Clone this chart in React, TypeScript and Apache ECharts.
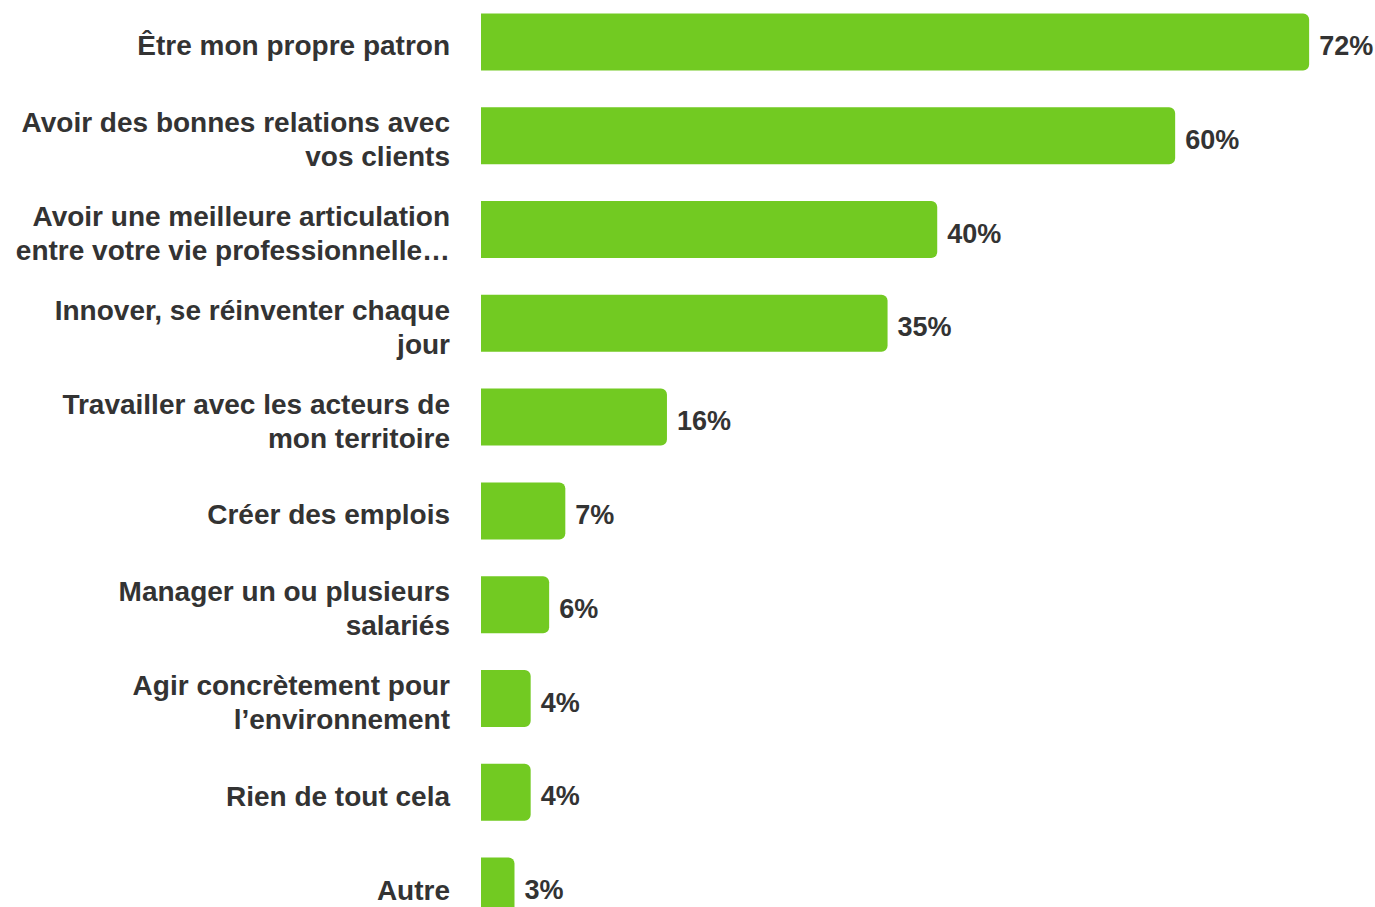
import React, { useEffect, useRef } from "react";
import * as echarts from "echarts";

const categories: string[] = [
  "Être mon propre patron",
  "Avoir des bonnes relations avec\nvos clients",
  "Avoir une meilleure articulation\nentre votre vie professionnelle…",
  "Innover, se réinventer chaque\njour",
  "Travailler avec les acteurs de\nmon territoire",
  "Créer des emplois",
  "Manager un ou plusieurs\nsalariés",
  "Agir concrètement pour\nl’environnement",
  "Rien de tout cela",
  "Autre",
];

const values: number[] = [71.7, 60.1, 39.5, 35.2, 16.1, 7.3, 5.9, 4.3, 4.3, 2.9];

const BAR_COLOR = "#72CA22";
const TEXT_COLOR = "#333333";
const FONT = "'Liberation Sans', Arial, sans-serif";

export default function App() {
  const ref = useRef<HTMLDivElement>(null);

  useEffect(() => {
    if (!ref.current) return;
    const chart = echarts.init(ref.current, undefined, { renderer: "svg" });
    chart.setOption({
      animation: false,
      backgroundColor: "#ffffff",
      grid: [
        { left: 481, right: 4.65, top: 0, height: 938, containLabel: false },
        { left: 481, right: 4.65, top: 4, height: 938, containLabel: false },
      ],
      xAxis: [
        { type: "value", min: 0, max: 77, show: false, gridIndex: 0 },
        { type: "value", min: 0, max: 77, show: false, gridIndex: 1 },
      ],
      yAxis: [
        {
          type: "category",
          gridIndex: 0,
          data: categories,
          inverse: true,
          axisLine: { show: false },
          axisTick: { show: false },
          splitLine: { show: false },
          axisLabel: { show: false },
        },
        {
          type: "category",
          gridIndex: 1,
          data: categories,
          inverse: true,
          axisLine: { show: false },
          axisTick: { show: false },
          splitLine: { show: false },
          axisLabel: {
            margin: 31,
            fontSize: 28,
            fontWeight: "bold",
            color: TEXT_COLOR,
            fontFamily: FONT,
            lineHeight: 34,
            align: "right",
          },
        },
      ],
      series: [
        {
          type: "bar",
          xAxisIndex: 0,
          yAxisIndex: 0,
          data: values,
          barWidth: 57,
          itemStyle: { color: BAR_COLOR, borderRadius: [0, 6, 6, 0] },
          label: {
            show: true,
            position: "right",
            distance: 10,
            offset: [0, 4],
            fontSize: 27,
            fontWeight: "bold",
            color: TEXT_COLOR,
            fontFamily: FONT,
            formatter: (p: any) => Math.round(p.value) + "%",
          },
        },
      ],
    });
    return () => chart.dispose();
  }, []);

  return (
    <div
      style={{
        position: "fixed",
        left: 0,
        top: 0,
        width: 1375,
        height: 907,
        overflow: "hidden",
        background: "#ffffff",
      }}
    >
      <div
        ref={ref}
        style={{ position: "absolute", left: 0, top: -5, width: 1375, height: 950 }}
      />
    </div>
  );
}
